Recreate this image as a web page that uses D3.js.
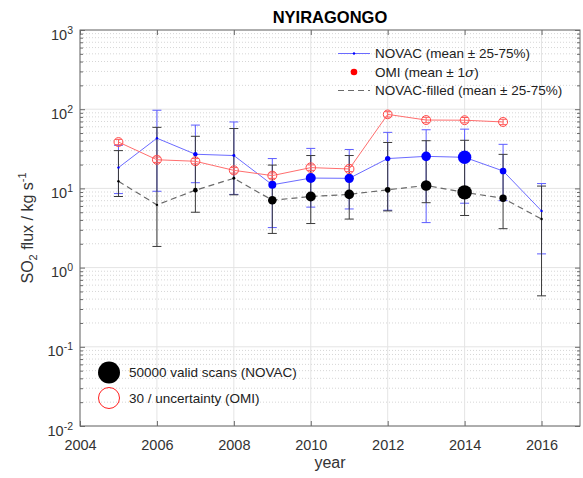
<!DOCTYPE html>
<html>
<head>
<meta charset="utf-8">
<script src="https://cdn.jsdelivr.net/npm/d3@7"></script>
<style>
  html, body { margin: 0; padding: 0; background: #fff; }
  svg { display: block; font-family: "Liberation Sans", Arial, Helvetica, sans-serif; }
</style>
</head>
<body>
<svg id="chart" width="583" height="478"></svg>
<script>
// Annual SO2 flux at Nyiragongo: NOVAC scanners vs. OMI satellite
const years = [2005, 2006, 2007, 2008, 2009, 2010, 2011, 2012, 2013, 2014, 2015, 2016];

// NOVAC (mean with 25-75% range) and number of valid scans
const novacMean = [18.3, 43, 27, 26, 11.1, 13.5, 13.4, 23.8, 25.4, 24.7, 16.6, 5.2];
const novacLo   = [8.6, 9.2, 11.8, 8.4, 3.2, 5.8, 5.5, 5.3, 3.7, 6.5, 7.0, 1.49];
const novacHi   = [35, 97, 63, 69, 23.8, 32, 31, 51, 55, 56, 36, 11.5];
const novacScans = [400, 400, 2000, 900, 6600, 10300, 9000, 3000, 9600, 18500, 4600, 300];

// NOVAC gap-filled series (mean with 25-75% range)
const filledMean = [12.3, 6.2, 9.5, 13.4, 7.1, 7.9, 8.4, 9.6, 10.9, 8.9, 7.5, 4.1];
const filledLo   = [7.9, 1.85, 5.0, 8.3, 2.7, 3.6, 4.1, 5.2, 6.6, 4.55, 3.1, 0.44];
const filledHi   = [30, 59, 45.5, 57, 19.7, 26, 26, 38, 40, 40.5, 26.9, 10.7];
const filledScans = [300, 300, 2200, 900, 7600, 10300, 9600, 3300, 11600, 21400, 5600, 250];

// OMI (mean with 1 sigma) and uncertainty
const omiYears = [2005, 2006, 2007, 2008, 2009, 2010, 2011, 2012, 2013, 2014, 2015];
const omiMean  = [38.5, 23, 22, 16.9, 14.5, 18.3, 17.6, 86, 73, 72.6, 69];
const omiLo    = [35.6, 21.3, 20.4, 15.6, 13.4, 16.9, 16.3, 79.5, 67.5, 67.2, 63.8];
const omiHi    = [41.6, 24.9, 23.8, 18.3, 15.7, 19.8, 19.0, 93, 79, 78.5, 74.6];
const omiUncertainty = [5.6, 5.5, 5.5, 5.4, 5.5, 4.9, 5.0, 5.8, 5.5, 5.6, 5.5];

const xTicks = [2004, 2006, 2008, 2010, 2012, 2014, 2016];
const yDecades = [0.01, 0.1, 1, 10, 100, 1000];
const yExponents = ["-2", "-1", "0", "1", "2", "3"];

const svg = d3.select("#chart");
const plotL = 80, plotR = 580, plotT = 30, plotB = 426;

const x = d3.scaleLinear().domain([2004, 2017]).range([plotL, plotR]);
const y = d3.scaleLog().domain([0.01, 1000]).range([plotB, plotT]);
const scanSize = d3.scaleSqrt().domain([0, 50000]).range([0, 11]);
const uncSize = d3.scaleSqrt().domain([0, 30]).range([0, 10.5]);

// minor values for the log grid
const minorVals = [];
yDecades.slice(0, -1).forEach(d => { for (let k = 2; k <= 9; k++) minorVals.push(d * k); });

const grid = svg.append("g");
grid.selectAll("line.minor").data(minorVals).join("line")
  .attr("x1", plotL).attr("x2", plotR)
  .attr("y1", d => y(d)).attr("y2", d => y(d))
  .attr("stroke", "#d6d6d6").attr("stroke-width", 1)
  .attr("stroke-dasharray", "1,2");
grid.selectAll("line.major").data(yDecades).join("line")
  .attr("x1", plotL).attr("x2", plotR)
  .attr("y1", d => y(d)).attr("y2", d => y(d))
  .attr("stroke", "#e4e4e4").attr("stroke-width", 1);
grid.selectAll("line.vx").data(xTicks).join("line")
  .attr("x1", d => x(d)).attr("x2", d => x(d))
  .attr("y1", plotT).attr("y2", plotB)
  .attr("stroke", "#e4e4e4").attr("stroke-width", 1);

// axes
const axisColor = "#6a6a6a";
const fs = "14.5px";
const gx = svg.append("g").attr("transform", `translate(0,${plotB})`)
  .call(d3.axisBottom(x).tickValues(xTicks).tickFormat(d3.format("d")).tickSizeInner(-5).tickSizeOuter(0).tickPadding(14));
gx.selectAll("text").attr("font-size", fs).attr("fill", "#333");
const gxTop = svg.append("g").attr("transform", `translate(0,${plotT})`)
  .call(d3.axisTop(x).tickValues(xTicks).tickFormat("").tickSizeInner(-5).tickSizeOuter(0));

const gy = svg.append("g").attr("transform", `translate(${plotL},0)`)
  .call(d3.axisLeft(y).tickValues(yDecades).tickFormat("").tickSizeInner(-5).tickSizeOuter(0));
gy.selectAll(".tick text").each(function(d, i) {
  const t = d3.select(this).attr("x", -7).attr("dy", null).attr("y", 9)
    .attr("font-size", fs).attr("fill", "#333").attr("text-anchor", "end");
  t.text("");
  t.append("tspan").text("10");
  t.append("tspan").attr("font-size", "10.5px").attr("dy", -6).text(yExponents[i]);
});
const gyMinor = svg.append("g").attr("transform", `translate(${plotL},0)`)
  .call(d3.axisLeft(y).tickValues(minorVals).tickFormat("").tickSizeInner(-3).tickSizeOuter(0));
const gyR = svg.append("g").attr("transform", `translate(${plotR},0)`)
  .call(d3.axisRight(y).tickValues(yDecades).tickFormat("").tickSizeInner(-5).tickSizeOuter(0));
const gyRMinor = svg.append("g").attr("transform", `translate(${plotR},0)`)
  .call(d3.axisRight(y).tickValues(minorVals).tickFormat("").tickSizeInner(-3).tickSizeOuter(0));
[gx, gxTop, gy, gyMinor, gyR, gyRMinor].forEach(g => {
  g.select(".domain").remove();
  g.selectAll(".tick line").attr("stroke", axisColor);
});
// box
svg.append("rect").attr("x", plotL).attr("y", plotT).attr("width", plotR - plotL).attr("height", plotB - plotT)
  .attr("fill", "none").attr("stroke", axisColor).attr("stroke-width", 1);

// error bar helper
function errorBars(g, xs, lo, hi, color, capHalf) {
  const b = g.append("g").attr("stroke", color).attr("stroke-width", 1).attr("fill", "none");
  xs.forEach((yr, i) => {
    const cx = x(yr);
    b.append("line").attr("x1", cx).attr("x2", cx).attr("y1", y(lo[i])).attr("y2", y(hi[i]));
    b.append("line").attr("x1", cx - capHalf).attr("x2", cx + capHalf).attr("y1", y(lo[i])).attr("y2", y(lo[i]));
    b.append("line").attr("x1", cx - capHalf).attr("x2", cx + capHalf).attr("y1", y(hi[i])).attr("y2", y(hi[i]));
  });
}
const line = d3.line().x(d => x(d[0])).y(d => y(d[1]));
const plot = svg.append("g");

// NOVAC
errorBars(plot, years, novacLo, novacHi, "#5c5cff", 4.5);
plot.append("path").datum(years.map((yr, i) => [yr, novacMean[i]]))
  .attr("d", line).attr("fill", "none").attr("stroke", "#6b6bff").attr("stroke-width", 1);

// NOVAC-filled
errorBars(plot, years, filledLo, filledHi, "#3a3a3a", 4.5);
plot.append("path").datum(years.map((yr, i) => [yr, filledMean[i]]))
  .attr("d", line).attr("fill", "none").attr("stroke", "#6a6a6a").attr("stroke-width", 1.2)
  .attr("stroke-dasharray", "6,4");

plot.append("g").selectAll("circle").data(years).join("circle")
  .attr("cx", d => x(d)).attr("cy", (d, i) => y(novacMean[i]))
  .attr("r", (d, i) => Math.max(1.2, scanSize(novacScans[i])))
  .attr("fill", "#0000ff");
plot.append("g").selectAll("circle").data(years).join("circle")
  .attr("cx", d => x(d)).attr("cy", (d, i) => y(filledMean[i]))
  .attr("r", (d, i) => Math.max(1.2, scanSize(filledScans[i])))
  .attr("fill", "#000");

// OMI
errorBars(plot, omiYears, omiLo, omiHi, "#ff5a5a", 3.5);
plot.append("path").datum(omiYears.map((yr, i) => [yr, omiMean[i]]))
  .attr("d", line).attr("fill", "none").attr("stroke", "#ff6e6e").attr("stroke-width", 1);
plot.append("g").selectAll("circle").data(omiYears).join("circle")
  .attr("cx", d => x(d)).attr("cy", (d, i) => y(omiMean[i]))
  .attr("r", (d, i) => uncSize(30 / omiUncertainty[i]))
  .attr("fill", "none").attr("stroke", "#ff4a4a").attr("stroke-width", 1);

// title and axis labels
svg.append("text").attr("x", (plotL + plotR) / 2).attr("y", 23).attr("text-anchor", "middle")
  .attr("font-size", "16.5px").attr("font-weight", "bold").attr("fill", "#000").text("NYIRAGONGO");
svg.append("text").attr("x", (plotL + plotR) / 2).attr("y", 468).attr("text-anchor", "middle")
  .attr("font-size", "16px").attr("fill", "#333").text("year");
const yl = svg.append("text").attr("transform", `translate(33,${(plotT + plotB) / 2}) rotate(-90)`)
  .attr("text-anchor", "middle").attr("font-size", "16px").attr("fill", "#333");
yl.append("tspan").text("SO");
yl.append("tspan").attr("font-size", "11px").attr("dy", 4).text("2");
yl.append("tspan").attr("dy", -4).text(" flux / kg s");
yl.append("tspan").attr("font-size", "11px").attr("dy", -7).text("-1");

// legend (series)
const lg = svg.append("g").attr("font-size", "13.5px").attr("fill", "#222");
const rows = [53.5, 72, 90.5];
lg.append("line").attr("x1", 338).attr("x2", 370).attr("y1", rows[0]).attr("y2", rows[0]).attr("stroke", "#6b6bff");
lg.append("circle").attr("cx", 354).attr("cy", rows[0]).attr("r", 1.2).attr("fill", "#0000ff");
lg.append("circle").attr("cx", 354).attr("cy", rows[1]).attr("r", 3.3).attr("fill", "#ff0000");
lg.append("line").attr("x1", 338).attr("x2", 370).attr("y1", rows[2]).attr("y2", rows[2])
  .attr("stroke", "#6a6a6a").attr("stroke-width", 1.2).attr("stroke-dasharray", "6,4");
const labels = ["NOVAC (mean \u00b1 25-75%)", null, "NOVAC-filled (mean \u00b1 25-75%)"];
lg.append("text").attr("x", 375).attr("y", rows[0] + 4.8).text(labels[0]);
const omiLabel = lg.append("text").attr("x", 375).attr("y", rows[1] + 4.8);
omiLabel.append("tspan").text("OMI (mean \u00b1 1");
omiLabel.append("tspan").attr("font-style", "italic").attr("font-family", "'DejaVu Serif', serif").text("\u03c3");
omiLabel.append("tspan").text(")");
lg.append("text").attr("x", 375).attr("y", rows[2] + 4.8).text(labels[2]);

// legend (marker size)
const sl = svg.append("g").attr("font-size", "13.5px").attr("fill", "#222");
sl.append("circle").attr("cx", 109).attr("cy", 372.5).attr("r", scanSize(50000)).attr("fill", "#000");
sl.append("circle").attr("cx", 109).attr("cy", 398).attr("r", uncSize(30)).attr("fill", "none").attr("stroke", "#ff2020").attr("stroke-width", 1);
sl.append("text").attr("x", 129).attr("y", 377.3).text("50000 valid scans (NOVAC)");
sl.append("text").attr("x", 129).attr("y", 402.8).text("30 / uncertainty (OMI)");
</script>
</body>
</html>
